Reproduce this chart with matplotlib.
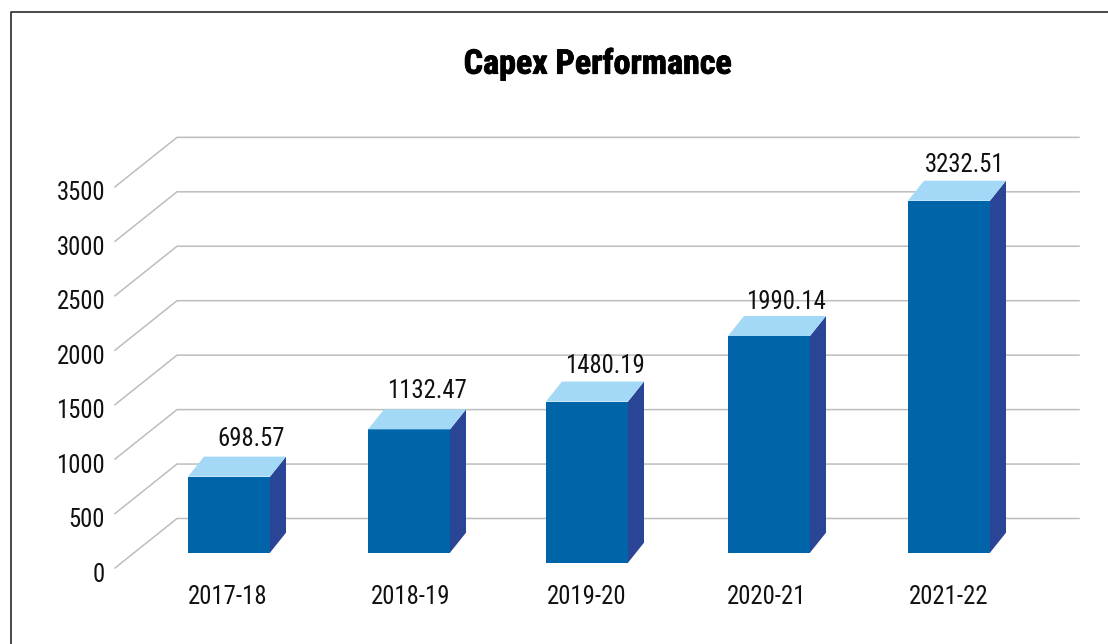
import matplotlib

matplotlib.use('Agg')
import matplotlib.pyplot as plt
import matplotlib.patheffects as pe
from matplotlib.lines import Line2D
from matplotlib.patches import Polygon

years = ['2017-18', '2018-19', '2019-20', '2020-21', '2021-22']
capex = [698.57, 1132.47, 1480.19, 1990.14, 3232.51]
value_labels = ['698.57', '1132.47', '1480.19', '1990.14', '3232.51']
y_ticks = [0, 500, 1000, 1500, 2000, 2500, 3000, 3500]

WIDTH, HEIGHT = 1108, 644
PX_PER_UNIT = 0.1089
PX_PER_CAT = 180
X0_PX, Y0_PX = 229, 552.7

FRONT = '#0065A8'
SIDE = '#2A4596'
TOP = '#A3D9F7'
GRID = '#BDBDBD'
FONT = 'Roboto Condensed'
TEXT_SIZE = 17.8

# bar depth and wall offsets, px converted to data units
dx = 16 / PX_PER_CAT
dy = 20 / PX_PER_UNIT
back_floor = 34.2 / PX_PER_UNIT
front_floor = -15.3 / PX_PER_UNIT
bar_w = 82 / PX_PER_CAT

fig = plt.figure(figsize=(WIDTH / 100, HEIGHT / 100), dpi=100)
ax = fig.add_axes([0, 0, 1, 1])
ax.set_xlim(-X0_PX / PX_PER_CAT, (WIDTH - X0_PX) / PX_PER_CAT)
ax.set_ylim(-(HEIGHT - Y0_PX) / PX_PER_UNIT, Y0_PX / PX_PER_UNIT)
ax.axis('off')


def cat_x(px):
    return (px - X0_PX) / PX_PER_CAT


# frame, open on the right and the bottom
fig.add_artist(Line2D([10.5 / WIDTH, 10.5 / WIDTH, 1], [0, 1 - 12 / HEIGHT, 1 - 12 / HEIGHT],
                      color='#3A3A3A', lw=1.3))

for t in y_ticks:
    ax.plot([cat_x(115), cat_x(177), cat_x(1079)],
            [t + front_floor, t + back_floor, t + back_floor],
            color=GRID, lw=1.1, zorder=1, solid_joinstyle='miter')
    ax.text(cat_x(105), t + front_floor - 6.5 / PX_PER_UNIT, str(t), ha='right', va='center',
            fontsize=TEXT_SIZE, family=FONT, color='#111111')

# the third bar sits lower and a bit to the left in the original
x_nudge = [0, 0, -2 / PX_PER_CAT, 0, 0]
sunk = [0, 0, -92, 0, 0]
label_dx = [22, 18, 18, 17, 16]
label_dy = [18, 18, 16, 14, 16]
xlabel_dx = [-1, 2, -2, -2, 0]

for i, v in enumerate(capex):
    x = i + x_nudge[i]
    left, right = x - bar_w / 2, x + bar_w / 2
    base = sunk[i]
    top = base + v
    ax.bar(x, v, width=bar_w, bottom=base, color=FRONT, zorder=3)
    ax.add_patch(Polygon([(right, base), (right + dx, base + dy), (right + dx, top + dy), (right, top)],
                         closed=True, facecolor=SIDE, edgecolor='none', zorder=3))
    ax.add_patch(Polygon([(left, top), (left + dx, top + dy), (right + dx, top + dy), (right, top)],
                         closed=True, facecolor=TOP, edgecolor='none', zorder=3))
    ax.text(x + label_dx[i] / PX_PER_CAT, top + dy + label_dy[i] / PX_PER_UNIT, value_labels[i],
            ha='center', va='center', fontsize=TEXT_SIZE, family=FONT, color='#111111', zorder=4)
    ax.text(i + xlabel_dx[i] / PX_PER_CAT, -44.3 / PX_PER_UNIT, years[i],
            ha='center', va='center', fontsize=TEXT_SIZE, family=FONT, color='#111111')

ax.text(cat_x(597.5), 488 / PX_PER_UNIT, 'Capex Performance', ha='center', va='center',
        fontsize=24.5, family=FONT, fontweight='bold', color='black',
        path_effects=[pe.withStroke(linewidth=0.6, foreground='black')])

fig.savefig('out.png', dpi=100)
